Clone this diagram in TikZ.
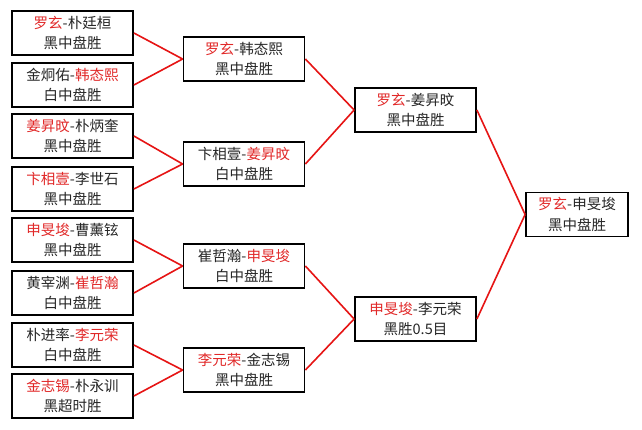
\documentclass[tikz,border=0pt]{standalone}
\usepackage{fontspec}
\setmainfont{Noto Sans CJK SC}
\definecolor{winred}{RGB}{225,40,40}
\definecolor{linkred}{RGB}{230,20,20}
\newcommand{\w}[1]{\textcolor{winred}{#1}}
\begin{document}
\begin{tikzpicture}[x=1pt,y=-1pt,
  box/.style={draw=black, line width=1.8pt, fill=white, minimum width=121pt, minimum height=44pt,
    inner sep=0pt, align=center, font=\fontsize{14.5}{20.5}\selectfont, text=black!85},
  link/.style={draw=linkred, line width=1.6pt}]
\useasboundingbox[fill=white] (0,0) rectangle (642,429);
% round 1
\node[box] (a1) at (72.5,33)  {\w{罗玄}-朴廷桓\\黑中盘胜};
\node[box] (a2) at (72.5,85)  {金炯佑-\w{韩态熙}\\白中盘胜};
\node[box] (a3) at (72.5,136) {\w{姜昇旼}-朴炳奎\\黑中盘胜};
\node[box] (a4) at (72.5,189) {\w{卞相壹}-李世石\\黑中盘胜};
\node[box] (a5) at (72.5,240) {\w{申旻埈}-曹薰铉\\黑中盘胜};
\node[box] (a6) at (72.5,293) {黄宰渊-\w{崔哲瀚}\\白中盘胜};
\node[box] (a7) at (72.5,345) {朴进率-\w{李元荣}\\白中盘胜};
\node[box] (a8) at (72.5,396) {\w{金志锡}-朴永训\\黑超时胜};
% round 2
\node[box] (b1) at (244,59)  {\w{罗玄}-韩态熙\\黑中盘胜};
\node[box] (b2) at (244,164) {卞相壹-\w{姜昇旼}\\白中盘胜};
\node[box] (b3) at (244,266) {崔哲瀚-\w{申旻埈}\\白中盘胜};
\node[box] (b4) at (244,370) {\w{李元荣}-金志锡\\黑中盘胜};
% round 3
\node[box] (c1) at (415.5,110) {\w{罗玄}-姜昇旼\\黑中盘胜};
\node[box] (c2) at (415.5,319) {\w{申旻埈}-李元荣\\黑胜0.5目};
% final
\node[box, minimum width=102pt] (d1) at (577,214.5) {\w{罗玄}-申旻埈\\黑中盘胜};
% links
\foreach \s/\t in {a1/b1,a2/b1,a3/b2,a4/b2,a5/b3,a6/b3,a7/b4,a8/b4,b1/c1,b2/c1,b3/c2,b4/c2,c1/d1,c2/d1}
  \draw[link] (\s.east) -- (\t.west);
\end{tikzpicture}
\end{document}
